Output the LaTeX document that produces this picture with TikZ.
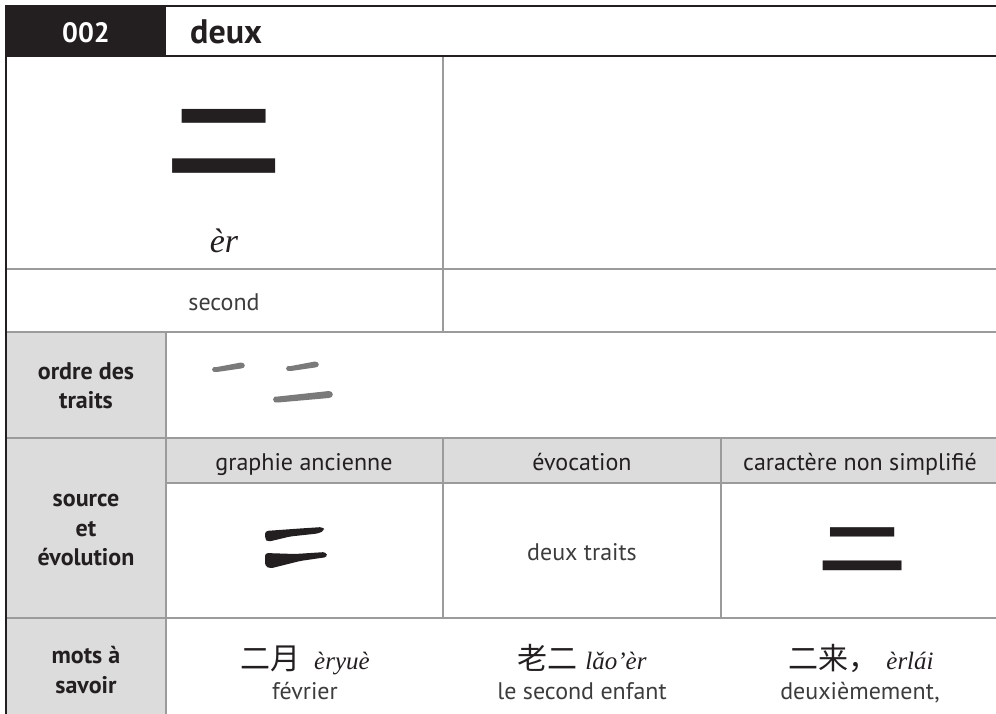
\documentclass[tikz,border=0pt]{standalone}
\usepackage{fontspec}
\setmainfont{PT Sans}
\newfontfamily\cjk{Noto Sans CJK SC}
\newfontfamily\py{Liberation Serif}
\usepackage{tikz}
\usetikzlibrary{positioning}
\definecolor{ink}{HTML}{231F20}
\definecolor{rulegray}{HTML}{9B9B9B}
\definecolor{cellgray}{HTML}{DCDCDC}
\definecolor{txt}{HTML}{3C3C3C}
\definecolor{pen}{HTML}{7A7A7A}
\newcommand{\heng}[5]{\fill ({#1},{#2}) .. controls ({#1+1},{#2-#5/2}) .. ({#1+5},{#2-#5/2}) -- ({#3-4},{#4-#5/2-1}) .. controls ({#3+1},{#4-#5/2-1}) and ({#3+1},{#4+#5/2}) .. ({#3-4},{#4+#5/2}) -- ({#1+5},{#2+#5/2}) .. controls ({#1+1},{#2+#5/2}) .. ({#1},{#2}) -- cycle;}

\begin{document}
\begin{tikzpicture}[x=1pt,y=-1pt,
  gridline/.style={draw=rulegray, line width=1.2},
  frame/.style={draw=ink, line width=2},
  rowlabel/.style={font=\bfseries\fontsize{24}{29.5}\selectfont, text=ink, align=center, inner sep=0},
  head/.style={font=\fontsize{24}{28}\selectfont, text=ink, anchor=base, inner sep=0},
  light/.style={font=\fontsize{24}{28}\selectfont, text=txt, anchor=base, inner sep=0},
  mot/.style={anchor=base, inner sep=0, font=\fontsize{30}{34}\selectfont, text=ink}]
\useasboundingbox (0,0) rectangle (996,714);
\fill[cellgray] (6,332) rectangle (166,714);
\fill[cellgray] (166,438) rectangle (996,483);
\fill[ink] (6,6) rectangle (166,56);
\foreach \y in {269,332,438,618} { \draw[gridline] (6,\y)--(996,\y); }
\draw[gridline] (166,483)--(996,483);
\draw[gridline] (443,56)--(443,332);
\draw[gridline] (166,332)--(166,714);
\foreach \x in {443,721} { \draw[gridline] (\x,438)--(\x,618); }
\draw[frame] (6,6)--(996,6) (6,56)--(996,56) (6,5)--(6,714);

\node[anchor=base, inner sep=0, text=white, font=\bfseries\fontsize{28}{32}\selectfont] (num) at (86,43) {002};
\node[anchor=base west, inner sep=0, text=ink, font=\bfseries\fontsize{34}{38}\selectfont] (titre) at (190,44) {deux};
\node[inner sep=0, text=ink, font=\cjk\bfseries\fontsize{115}{120}\selectfont] (hanzi) at (224,141) {\scalebox{1}[0.75]{二}};
\node[anchor=base, inner sep=0, text=ink, font=\py\itshape\fontsize{34}{40}\selectfont] (pinyin) at (224,253) {èr};
\node[light] (sens) at (224,310) {second};

\node[rowlabel] (ordre) at (86,386) {ordre des\\traits};
\begin{scope}[fill=pen]
\heng{212}{369.5}{245}{366}{5}
\heng{286}{368.5}{319}{365}{5}
\heng{273}{399.5}{333}{395}{6}
\end{scope}

\node[rowlabel] (source) at (86,530) {source\\et\\évolution};
\node[head] (graphie) at (304,470) {graphie ancienne};
\node[head] (evocation) at (582,470) {évocation};
\node[head] (nonsimp) at (860,470) {caractère non simplifié};
\fill[ink, rounded corners=3] (265,531)--(300,528.5)--(323,527)--(324.5,530.5)--(318,533.5)--(290,536.5)--(268,541.8)--(265,539)--cycle;
\fill[ink, rounded corners=3] (265,553)--(295,554)--(326,552)--(327.5,557)--(300,561)--(270,568.5)--(265,566)--cycle;
\node[light] (traits) at (582,560) {deux traits};
\node[inner sep=0, text=ink, font=\cjk\bfseries\fontsize{88}{92}\selectfont] (trad) at (862,549) {\scalebox{1}[0.66]{二}};

\node[rowlabel] (mots) at (86,670) {mots à\\savoir};
\node[mot] (mot1) at (305,669) {\cjk 二月\hspace{14pt}{\py\itshape\fontsize{25}{30}\selectfont èryuè}};
\node[light] (fr1) at (305,699) {février};
\node[mot] (mot2) at (582,669) {\cjk 老二\hspace{8pt}{\py\itshape\fontsize{25}{30}\selectfont lǎo’èr}};
\node[light] (fr2) at (582,699) {le second enfant};
\node[mot] (mot3) at (861,669) {\cjk 二来，\hspace{8pt}{\py\itshape\fontsize{25}{30}\selectfont èrlái}};
\node[light] (fr3) at (860,699) {deuxièmement,};
\end{tikzpicture}
\end{document}
